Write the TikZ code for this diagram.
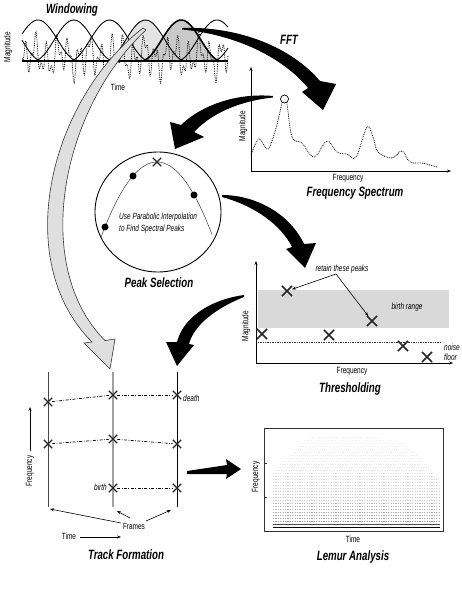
\documentclass[tikz,border=0pt]{standalone}
\usepackage{fontspec}
\setmainfont{Liberation Sans}
\newfontfamily\cf[FakeStretch=0.72]{Liberation Sans}
\usetikzlibrary{shapes.misc,arrows.meta}
\tikzset{
  title/.style={font=\cf\bfseries\itshape\fontsize{13.5}{14}\selectfont, inner sep=0pt},
  lab/.style={font=\cf\fontsize{9}{10}\selectfont, inner sep=0pt},
  ilab/.style={font=\cf\itshape\fontsize{9}{11.5}\selectfont, inner sep=0pt},
  xmk/.style={cross out, draw=black!85, line width=1.6pt, minimum size=8.5pt, inner sep=0pt},
  xsm/.style={cross out, draw=black!85, line width=1.3pt, minimum size=7pt, inner sep=0pt},
  dotm/.style={circle, fill=black, minimum size=7pt, inner sep=0pt},
  axis/.style={line width=0.8pt, -{Stealth[length=4pt,width=3pt]}},
  bigarrow/.style={fill=black},
  greyarrow/.style={fill=gray!25, draw=gray!45!black, line width=0.6pt},
  dd/.style={line width=0.7pt, dash pattern=on 3pt off 1.5pt on 0.8pt off 1.5pt},
  tarrow/.style={line width=0.6pt, -{Stealth[length=4pt,width=3pt]}},
  bell/.style={line width=0.9pt},
  sig/.style={line width=0.8pt, dash pattern=on 0.8pt off 1pt},
}
\begin{document}
\begin{tikzpicture}[x=1pt,y=-1pt]
\useasboundingbox (0,0) rectangle (462,593);
\fill[white] (0,0) rectangle (462,593);

% ---------------- Windowing ----------------
\node[title] (twin) at (72,10) {Windowing};
\fill[gray!22] plot[domain=105.4:185.4, samples=40] (\x,{61-41*cos(2.25*(\x-145.4))*cos(2.25*(\x-145.4))}) -- cycle;
\fill[gray!42] plot[domain=141.2:221.2, samples=40] (\x,{61-41*cos(2.25*(\x-181.2))*cos(2.25*(\x-181.2))}) -- cycle;
\draw[sig] plot[domain=22:228, samples=700] (\x,{57-13*sin(33*\x)-8*sin(71*\x+40)-6*sin(13*\x+10)});
\foreach \c in {2.2,38,73.8,109.6,145.4,217,252.8} {
  \pgfmathsetmacro\a{max(22,\c-40)}
  \pgfmathsetmacro\b{min(228,\c+40)}
  \draw[bell] plot[domain=\a:\b, samples=40] (\x,{61-41*cos(2.25*(\x-\c))*cos(2.25*(\x-\c))});
}
\draw[line width=1.6pt] plot[domain=141.2:221.2, samples=40] (\x,{61-41*cos(2.25*(\x-181.2))*cos(2.25*(\x-181.2))});
\draw[line width=1.3pt] (22,61) -- (228,61);
\node[lab, rotate=90] (wmag) at (8,47) {Magnitude};
\node[lab] (wtime) at (118,87) {Time};

% ---------------- Grey arrow (windowing -> track) ----------------
\filldraw[greyarrow] (143,28) .. controls (50,100) and (10,260) .. (92,342) -- (84,343) -- (110,369) -- (115,339) -- (105,340.6) .. controls (30,265) and (62,108) .. (146,30) -- cycle;

% ---------------- FFT arrow ----------------
\fill[bigarrow] (182,28) .. controls (240,26) and (292,48) .. (320,81) -- (336,84) -- (323,110) -- (302,92) -- (308,88) .. controls (285,60) and (240,35) .. (182,29.5) -- cycle;
\node[title] (tfft) at (289,40) {FFT};

% ---------------- Frequency spectrum ----------------
\coordinate (so) at (251,171);
\coordinate (sy) at (251,67);
\coordinate (sx) at (451,171);
\draw[axis] (so) -- (sy);
\draw[axis] (so) -- (sx);
\draw[sig] plot[smooth, tension=0.6] coordinates {(251,155) (259,139) (268,149) (276,128) (282,103) (284.5,99) (287,104) (292,137) (302,143) (314,157) (327,141) (337,152) (347,154) (356,157) (367,127) (373,137) (378,152) (392,158) (402,151) (410,162) (422,163) (430,165) (437,167)};
\node[circle, draw, fill=white, line width=0.7pt, minimum size=8pt, inner sep=0pt] (speak) at (284.5,99) {};
\node[lab, rotate=90] (smag) at (243,126) {Magnitude};
\node[lab] (sfreq) at (348,178) {Frequency};
\node[title] (tspec) at (355,193) {Frequency Spectrum};

% ---------------- arrow spectrum -> peak selection ----------------
\fill[bigarrow] (273,96) .. controls (240,93) and (204,103) .. (181,125) -- (170,122) -- (175,149) -- (204,137) -- (194,132) .. controls (212,113) and (240,101) .. (273,97.5) -- cycle;

% ---------------- Peak selection ----------------
\draw[line width=0.9pt] (158,212) ellipse (63pt and 60pt);
\draw[gray!70!black, line width=0.6pt] plot[domain=101:212, samples=60] (\x,{162+0.024*(\x-157)*(\x-157)});
\node[dotm] (d1) at (105,227) {};
\node[dotm] (d2) at (133,176) {};
\node[dotm] (d3) at (194,195) {};
\node[xsm] (px) at (157,162) {};
\node[ilab, align=left, anchor=west] (ptext) at (119,223) {Use Parabolic Interpolation\\to Find Spectral Peaks};
\node[title] (tpeak) at (159,283) {Peak Selection};

% ---------------- arrow peak selection -> thresholding ----------------
\fill[bigarrow] (222,195) .. controls (256,195) and (290,214) .. (304,244) -- (316,243) -- (305,268) -- (286,249) -- (292,247) .. controls (281,225) and (255,206) .. (222,197) -- cycle;

% ---------------- Thresholding ----------------
\fill[gray!30] (258,290) rectangle (449,328);
\draw[densely dotted, gray!40!black, line width=0.7pt] (258,342) -- (440,342);
\coordinate (to) at (256,363);
\coordinate (ty) at (256,261);
\coordinate (tx) at (453,363);
\draw[axis] (to) -- (ty);
\draw[axis] (to) -- (tx);
\node[xmk] (p1) at (287,291) {};
\node[xmk] (p2) at (372,321) {};
\node[xmk] (p3) at (262,334) {};
\node[xmk] (p4) at (329,335) {};
\node[xmk] (p5) at (403,346) {};
\node[xmk] (p6) at (427,357) {};
\node[ilab] (ret) at (342,269) {retain these peaks};
\coordinate (rs) at (336,274);
\draw[tarrow] (rs) -- (p1);
\draw[tarrow] (rs) -- (p2);
\node[ilab] (brange) at (407,307) {birth range};
\node[ilab, align=left, anchor=west, font=\cf\itshape\fontsize{9}{10}\selectfont] (noise) at (444,352) {noise\\floor};
\node[lab, rotate=90] (tmag) at (246,326) {Magnitude};
\node[lab] (tfreq) at (352,371) {Frequency};
\node[title] (tthr) at (350,389) {Thresholding};

% ---------------- arrow thresholding -> track ----------------
\fill[bigarrow] (244,295) .. controls (214,299) and (184,315) .. (177,342) -- (166,342) -- (177,366) -- (194,345) -- (189,344) .. controls (194,325) and (216,308) .. (244,297) -- cycle;

% ---------------- Track formation ----------------
\draw[gray!55!black, line width=1pt] (48,372) -- (48,507);
\draw[gray!75, line width=1.6pt] (113,372) -- (113,507);
\draw[black, line width=0.8pt] (177,372) -- (177,507);
\node[xsm] (l1) at (48,402) {};
\node[xsm] (l2) at (48,444) {};
\node[xsm] (m1) at (113,395) {};
\node[xsm] (m2) at (113,439) {};
\node[xsm] (m3) at (113,488) {};
\node[xsm] (r1) at (177,395) {};
\node[xsm] (r2) at (177,444) {};
\node[xsm] (r3) at (177,488) {};
\draw[dd] (l1) -- (m1);
\draw[dd] (m1) -- (r1);
\draw[dd] (l2) -- (m2);
\draw[dd] (m2) -- (r2);
\draw[dd] (m3) -- (r3);
\node[ilab, anchor=west] (death) at (183,398) {death};
\node[ilab, anchor=east] (birth) at (107,487) {birth};
\node[lab, rotate=90] (trfreq) at (30,471) {Frequency};
\coordinate (fa1) at (30,451);
\coordinate (fa2) at (30,407);
\draw[tarrow] (fa1) -- (fa2);
\node[lab] (frames) at (134,526) {Frames};
\coordinate (fs1) at (121,523);
\coordinate (fs2) at (130,518);
\coordinate (fs3) at (146,521);
\coordinate (fe1) at (50,509);
\coordinate (fe2) at (117,511);
\coordinate (fe3) at (171,510);
\draw[tarrow] (fs1) -- (fe1);
\draw[tarrow] (fs2) -- (fe2);
\draw[tarrow] (fs3) -- (fe3);
\node[lab] (trtime) at (69,536) {Time};
\coordinate (ta1) at (80,537);
\coordinate (ta2) at (121,537);
\draw[tarrow] (ta1) -- (ta2);
\node[title] (ttrack) at (126,555) {Track Formation};

% ---------------- arrow track -> lemur ----------------
\fill[bigarrow] (187,471) -- (227,465) -- (226,459) -- (241,469) -- (226,479) -- (227,474) -- (187,474) -- cycle;

% ---------------- Lemur analysis ----------------
\foreach \i in {0,...,29} {
  \pgfmathsetmacro\yy{437+3*\i}
  \pgfmathsetmacro\xl{max(273,307-3*\i)}
  \pgfmathsetmacro\xr{min(440,380+60*sqrt(min(\i,15)/15))}
  \pgfmathtruncatemacro\sh{6+34*(\i/29)*(\i/29)}
  \draw[black!\sh, line width=0.5pt, dash pattern=on 1.2pt off 1.2pt] (\xl,\yy) -- (\xr,\yy);
}
\draw[black!70, line width=0.7pt] (273,524) -- (440,524);
\draw[black, line width=1pt] (273,527) -- (440,527);
\draw[gray!40!black, line width=0.7pt] (264,428) rectangle (443,531);
\draw[gray!40!black, line width=0.6pt] (264,463) -- (267,463);
\draw[gray!40!black, line width=0.6pt] (264,497) -- (267,497);
\node[lab, rotate=90] (lfreq) at (256,477) {Frequency};
\node[lab] (ltime) at (353,539) {Time};
\node[title] (tlemur) at (353,557) {Lemur Analysis};
\end{tikzpicture}
\end{document}
